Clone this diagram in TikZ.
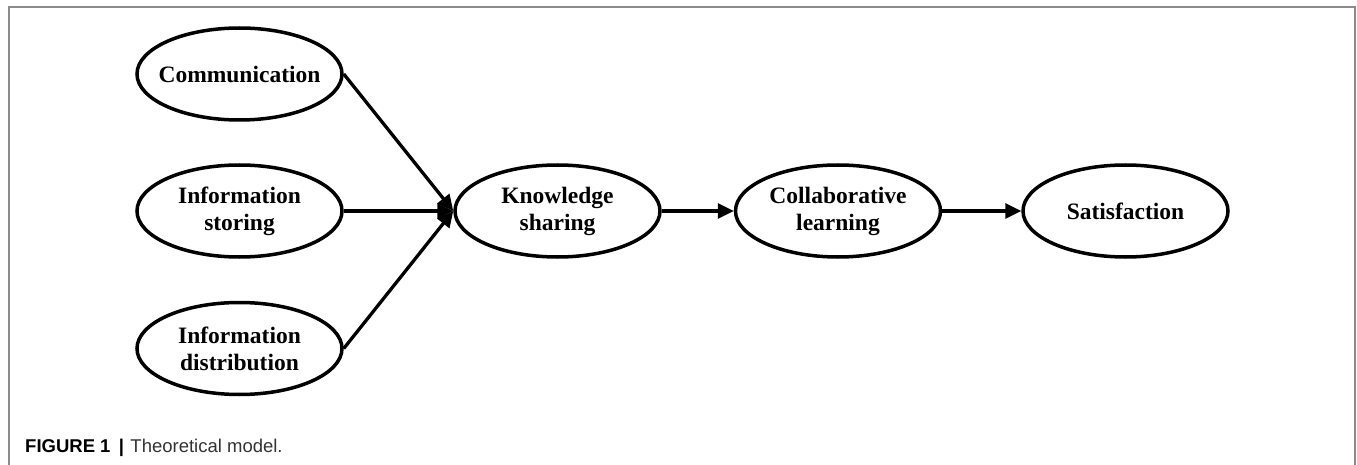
\documentclass[tikz,border=0pt]{standalone}
\usepackage{fontspec}
\setmainfont{Liberation Serif}
\newfontfamily\capfont{Liberation Sans}
\usetikzlibrary{shapes.geometric,arrows.meta}
\begin{document}
\begin{tikzpicture}[x=1pt,y=-1pt,
  construct/.style={ellipse,draw=black,line width=3.5pt,minimum width=205pt,minimum height=92pt,inner sep=0pt,
    label={[align=center,inner sep=0pt,font=\fontsize{23.5}{27}\selectfont\bfseries]center:#1}},
  link/.style={line width=3.3pt,-{Triangle[length=16pt,width=15pt]}},
  frameline/.style={draw=black!45,line width=1.5pt}]
\useasboundingbox (0,0) rectangle (1357,465);
\draw[frameline] (9,465) -- (9,7) -- (1355,7) -- (1355,465);
\node[construct={Communication}] (comm) at (239.5,74) {};
\node[construct={Information\\storing}] (store) at (239.5,211) {};
\node[construct={Information\\distribution}] (dist) at (239.5,348.5) {};
\node[construct={Knowledge\\sharing}] (ks) at (557.5,211) {};
\node[construct={Collaborative\\learning}] (cl) at (838,211) {};
\node[construct={Satisfaction}] (sat) at (1125.5,211) {};
\draw[link] (comm.east) -- (ks.west);
\draw[link] (store.east) -- (ks.west);
\draw[link] (dist.east) -- (ks.west);
\draw[link] (ks.east) -- (cl.west);
\draw[link] (cl.east) -- (sat.west);
\node[anchor=base west,inner sep=0pt,font=\capfont\fontsize{18.5}{21}\selectfont] (cap) at (25,452.7)
  {\textbf{FIGURE 1}\hspace{0.45em}\textbf{|}\hspace{0.35em}{\color{black!80}Theoretical model.}};
\end{tikzpicture}
\end{document}
